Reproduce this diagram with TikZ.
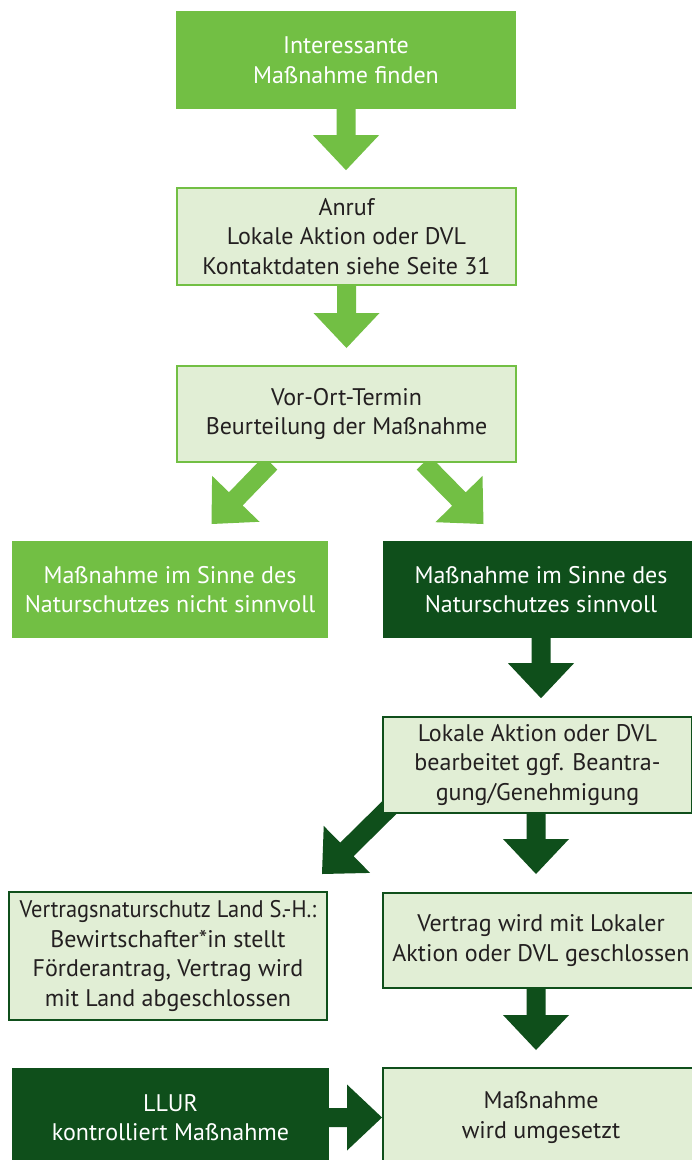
\documentclass[tikz,border=0pt]{standalone}
\usepackage{fontspec}
\setmainfont{PT Sans}
\usetikzlibrary{calc,backgrounds}
\definecolor{lgreen}{HTML}{72BF44}
\definecolor{dgreen}{HTML}{0F4F1B}
\definecolor{pale}{HTML}{E1EED5}
\definecolor{txt}{HTML}{231F20}
\newcommand\fatarrow[3]{%
  \coordinate (fah) at ($(#3)!35pt!(#2)$);
  \fill[#1] ($(#2)!9.5pt!90:(#3)$) -- ($(fah)!9.5pt!90:(#3)$) -- ($(fah)!33pt!90:(#3)$) -- (#3)
    -- ($(fah)!33pt!-90:(#3)$) -- ($(fah)!9.5pt!-90:(#3)$) -- ($(#2)!9.5pt!-90:(#3)$) -- cycle;}
\begin{document}
\begin{tikzpicture}[x=1pt,y=-1pt,
  every node/.style={font=\fontsize{24}{29.5}\selectfont, align=center, inner sep=0pt},
  lightbox/.style={fill=lgreen, text=white},
  darkbox/.style={fill=dgreen, text=white},
  palel/.style={fill=pale, draw=lgreen, line width=2pt, text=txt},
  paled/.style={fill=pale, draw=dgreen, line width=2pt, text=txt}]
\useasboundingbox (0,0) rectangle (692,1160);

\node[lightbox, minimum width=340pt, minimum height=98pt] (n1) at (346,60) {Interessante\\Maßnahme finden};
\node[palel, minimum width=339pt, minimum height=97pt] (n2) at (346.5,236.5) {Anruf\\Lokale Aktion oder DVL\\Kontaktdaten siehe Seite 31};
\node[palel, minimum width=339pt, minimum height=96pt] (n3) at (346.5,414) {Vor-Ort-Termin\\Beurteilung der Maßnahme};
\node[lightbox, minimum width=316pt, minimum height=97pt] (n4) at (170,589.5) {Maßnahme im Sinne des\\Naturschutzes nicht sinnvoll};
\node[darkbox, minimum width=316pt, minimum height=97pt] (n5) at (541,589.5) {Maßnahme im Sinne des\\Naturschutzes sinnvoll};
\node[paled, minimum width=309pt, minimum height=96pt] (n6) at (537.5,765) {Lokale Aktion oder DVL\\bearbeitet ggf. Beantra-\\gung/Genehmigung};
\node[paled, minimum width=318pt, minimum height=128pt] (n7) at (168,956) {\scalebox{0.935}[1]{Vertragsnaturschutz Land S.-H.:}\\Bewirtschafter*in stellt\\Förderantrag, Vertrag wird\\mit Land abgeschlossen};
\node[paled, minimum width=316pt, minimum height=95pt] (n8) at (541,940.5) {Vertrag wird mit Lokaler\\Aktion oder DVL geschlossen};
\node[darkbox, minimum width=317pt, minimum height=99pt] (n9) at (170.5,1117.5) {LLUR\\kontrolliert Maßnahme};
\node[paled, minimum width=316pt, minimum height=99pt] (n10) at (541,1117.5) {Maßnahme\\wird umgesetzt};

\coordinate (t1) at ($(n1.south)+(0,61)$);
\coordinate (t2) at ($(n2.south)+(0,62)$);
\coordinate (s3) at ($(n3.south)+(-76,0)$);
\coordinate (t3) at ($(n3.south)+(-135,61)$);
\coordinate (s4) at ($(n3.south)+(77,0)$);
\coordinate (t4) at ($(n3.south)+(137,61)$);
\coordinate (t5) at ($(n5.south)+(0,60)$);
\coordinate (s6) at ($(n6.south)+(-1.5,0)$);
\coordinate (t6) at ($(n6.south)+(-1.5,60)$);
\coordinate (s7) at ($(n6.south west)+(17,-16)$);
\coordinate (t7) at ($(n6.south west)+(-60,60)$);
\coordinate (s8) at ($(n8.south)+(-5,0)$);
\coordinate (t8) at ($(n8.south)+(-5,61)$);

\begin{scope}[on background layer]
\fill[white] (0,0) rectangle (692,1160);
\fatarrow{lgreen}{n1.south}{t1}
\fatarrow{lgreen}{n2.south}{t2}
\fatarrow{lgreen}{s3}{t3}
\fatarrow{lgreen}{s4}{t4}
\fatarrow{dgreen}{n5.south}{t5}
\fatarrow{dgreen}{s6}{t6}
\fatarrow{dgreen}{s7}{t7}
\fatarrow{dgreen}{s8}{t8}
\fatarrow{dgreen}{n9.east}{n10.west}
\end{scope}
\end{tikzpicture}
\end{document}
